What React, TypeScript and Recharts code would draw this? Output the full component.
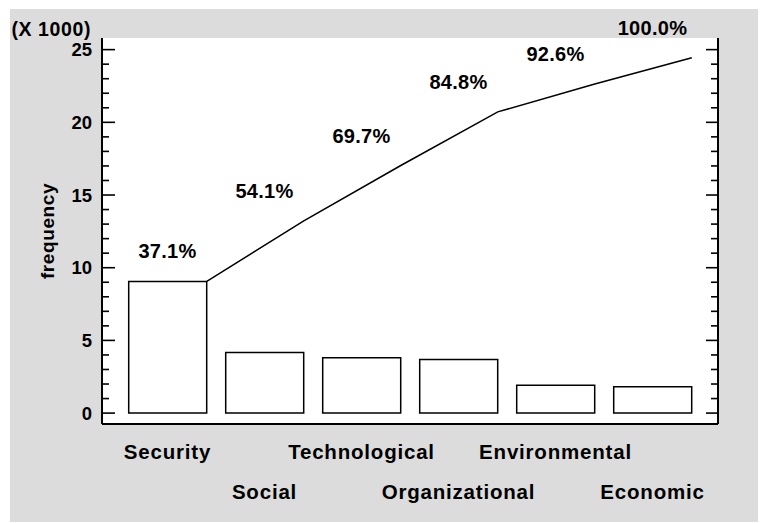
import React from 'react'
import {
  ComposedChart,
  Bar,
  Line,
  XAxis,
  YAxis,
  CartesianGrid,
  LabelList,
} from 'recharts'

// pareto of risk categories (frequency in units, axis shown x 1000)
const categories = ['Security', 'Social', 'Technological', 'Organizational', 'Environmental', 'Economic']
const counts = [9060, 4160, 3810, 3690, 1910, 1810]

const majorTicks = [0, 5000, 10000, 15000, 20000, 25000]
const allTicks = [
  0, 1000, 2000, 3000, 4000, 5000, 6000, 7000, 8000, 9000, 10000, 11000, 12000,
  13000, 14000, 15000, 16000, 17000, 18000, 19000, 20000, 21000, 22000, 23000,
  24000, 25000,
]
const yDomain = [-750, 25800]

// bar gap on each side of a category, as a fraction of the band
const gapFraction = 0.095

const total = counts.reduce((a, b) => a + b, 0)
let running = 0
const data = categories.map((name, i) => {
  running += counts[i]
  return {
    name,
    count: counts[i],
    cum: running,
    // line vertex sits on the right edge of each bar
    pos: i + 0.5 - gapFraction,
  }
})

const W = 756
const H = 514
const MARGIN = { top: 29, right: 48, bottom: 0, left: 0 }
const Y_WIDTH = 92
const TICK_MARGIN = 10
const PLOT_RIGHT = W - MARGIN.right

const FONT = '"Liberation Sans", Arial, sans-serif'
const axisLine = { stroke: '#000', strokeWidth: 2 }

// y tick: label outside, inward ticks on both the left and right frame
const FreqTick = (props: any) => {
  const { x, y, payload } = props
  const major = majorTicks.includes(payload.value)
  const left = x + TICK_MARGIN
  return (
    <g>
      <line x1={left} y1={y} x2={left + (major ? 13 : 7)} y2={y} stroke="#000" strokeWidth={1.6} />
      <line x1={PLOT_RIGHT} y1={y} x2={PLOT_RIGHT - (major ? 12 : 7)} y2={y} stroke="#000" strokeWidth={1.6} />
      {major && (
        <text
          x={x}
          y={y}
          dy="0.355em"
          textAnchor="end"
          fontFamily={FONT}
          fontWeight="bold"
          fontSize={18.5}
          fill="#000"
        >
          {payload.value / 1000}
        </text>
      )}
    </g>
  )
}

const CategoryTick = (props: any) => {
  const { x, y, payload } = props
  const idx = payload?.index ?? props.index ?? 0
  return (
    <text
      x={x}
      y={y + (idx % 2 === 0 ? 35 : 75)}
      textAnchor="middle"
      fontFamily={FONT}
      fontWeight="bold"
      fontSize={20.5}
      letterSpacing={0.8}
      fill="#000"
    >
      {payload.value}
    </text>
  )
}

const PctLabel = (props: any) => {
  const vb = props.viewBox || {}
  const x = vb.x ?? props.x
  const y = vb.y ?? props.y
  return (
    <text
      x={x}
      y={y - 23}
      textAnchor="middle"
      fontFamily={FONT}
      fontWeight="bold"
      fontSize={20}
      letterSpacing={0.3}
      fill="#000"
    >
      {((Number(props.value) / total) * 100).toFixed(1) + '%'}
    </text>
  )
}

const YTitle = (props: any) => {
  const vb = props.viewBox || {}
  const cy = vb.y + vb.height / 2
  return (
    <g>
      <text
        x={vb.x + 81}
        y={vb.y - 2}
        textAnchor="end"
        fontFamily={FONT}
        fontWeight="bold"
        fontSize={19.5}
        letterSpacing={0.6}
        fill="#000"
      >
        (X 1000)
      </text>
      <text
        x={vb.x + 37}
        y={cy}
        transform={`rotate(-90 ${vb.x + 37} ${cy})`}
        textAnchor="middle"
        dominantBaseline="central"
        fontFamily={FONT}
        fontWeight="bold"
        fontSize={19}
        letterSpacing={0.6}
        fill="#000"
      >
        frequency
      </text>
    </g>
  )
}

export default function App() {
  return (
    <div style={{ position: 'relative', left: 2, top: 1, width: W, height: H, background: '#dcdcdc' }}>
      <ComposedChart width={W} height={H} data={data} margin={MARGIN}>
        <CartesianGrid
          xAxisId="cat"
          yAxisId="left"
          horizontal={false}
          verticalPoints={[PLOT_RIGHT]}
          stroke="#000"
          strokeWidth={2}
          fill="#fff"
          fillOpacity={1}
        />

        <XAxis
          xAxisId="cat"
          dataKey="name"
          padding={{ left: 17, right: 17 }}
          height={H - 415}
          interval={0}
          tickSize={0}
          tickMargin={0}
          tickLine={false}
          axisLine={axisLine}
          tick={<CategoryTick />}
        />
        <XAxis
          xAxisId="num"
          dataKey="pos"
          type="number"
          domain={[-0.5, 5.5]}
          allowDataOverflow
          padding={{ left: 17, right: 17 }}
          hide
        />
        <XAxis
          xAxisId="top"
          dataKey="name"
          orientation="top"
          height={0}
          tick={false}
          tickLine={false}
          axisLine={axisLine}
        />

        <YAxis
          yAxisId="left"
          width={Y_WIDTH}
          domain={yDomain}
          allowDataOverflow
          ticks={allTicks}
          interval={0}
          tickSize={0}
          tickMargin={TICK_MARGIN}
          tickLine={false}
          axisLine={axisLine}
          tick={<FreqTick />}
          label={<YTitle />}
        />

        <Bar
          xAxisId="cat"
          yAxisId="left"
          dataKey="count"
          fill="#fff"
          stroke="#000"
          strokeWidth={1.5}
          barCategoryGap={`${gapFraction * 100}%`}
          isAnimationActive={false}
        />
        <Line
          xAxisId="num"
          yAxisId="left"
          dataKey="cum"
          type="linear"
          stroke="#000"
          strokeWidth={1.5}
          dot={false}
          activeDot={false}
          isAnimationActive={false}
        />
        <Line
          xAxisId="cat"
          yAxisId="left"
          dataKey="cum"
          stroke="none"
          dot={false}
          activeDot={false}
          isAnimationActive={false}
        >
          <LabelList dataKey="cum" content={<PctLabel />} />
        </Line>
      </ComposedChart>
    </div>
  )
}
